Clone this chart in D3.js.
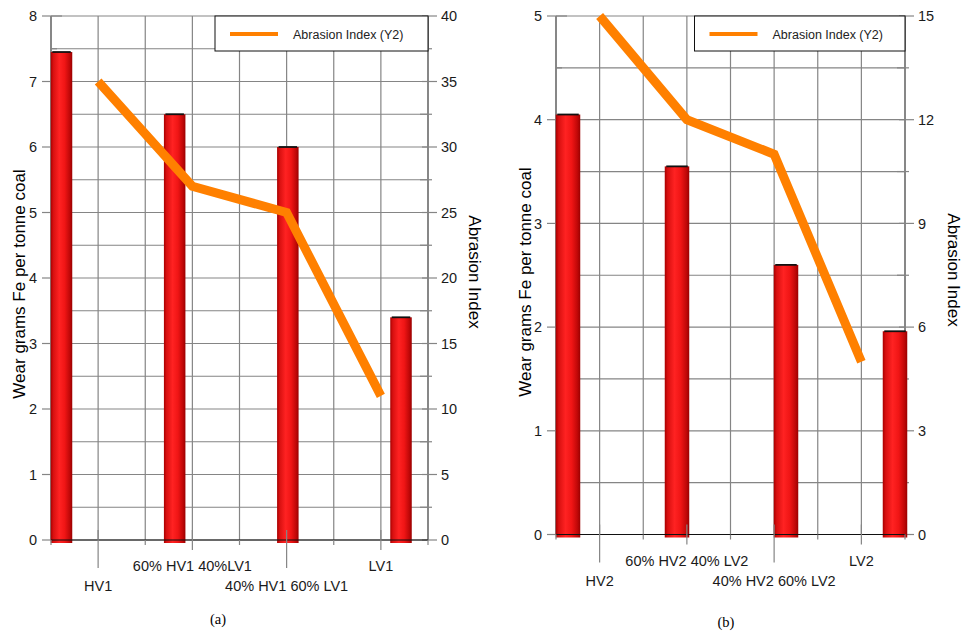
<!DOCTYPE html>
<html>
<head>
<meta charset="utf-8">
<script src="https://cdn.jsdelivr.net/npm/d3@7"></script>
<style>
  body { margin: 0; background: #fff; }
  svg { display: block; font-family: "Liberation Sans", Arial, sans-serif; }
  .grid line { stroke: #858585; stroke-width: 1.2px; }
  .axisline { stroke: #777; stroke-width: 1.5px; }
  .tick { stroke: #858585; stroke-width: 1.2px; }
  .ticklabel { font-size: 14.5px; fill: #1a1a1a; }
  .catlabel { font-size: 14.5px; fill: #1a1a1a; }
  .title { font-size: 17px; fill: #000; }
  .caption { font-family: "Liberation Serif", "Times New Roman", serif; font-size: 14.5px; fill: #000; }
</style>
</head>
<body>
<div id="chart"></div>
<script>
// panel (a)
const categoriesA = ["HV1", "60% HV1 40%LV1", "40% HV1 60% LV1", "LV1"];
const wearA = [7.45, 6.5, 6.0, 3.4];
const abrasionA = [35, 27, 25, 11];
const wearTicksA = [0, 1, 2, 3, 4, 5, 6, 7, 8];
const abrasionTicksA = [0, 5, 10, 15, 20, 25, 30, 35, 40];

// panel (b)
const categoriesB = ["HV2", "60% HV2 40% LV2", "40% HV2 60% LV2", "LV2"];
const wearB = [4.05, 3.55, 2.6, 1.96];
const abrasionB = [15, 12, 11, 5];
const wearTicksB = [0, 1, 2, 3, 4, 5];
const abrasionTicksB = [0, 3, 6, 9, 12, 15];

const legendLabel = "Abrasion Index (Y2)";
const yTitle = "Wear grams Fe per tonne coal";
const y2Title = "Abrasion Index";

const width = 966,
  height = 632;

const svg = d3
  .select("#chart")
  .append("svg")
  .attr("width", width)
  .attr("height", height)
  .attr("viewBox", `0 0 ${width} ${height}`);

// cylinder look for the bars
const grad = svg
  .append("defs")
  .append("linearGradient")
  .attr("id", "barGrad")
  .attr("x1", "0%")
  .attr("x2", "100%");
[
  ["0%", "#a80000"],
  ["12%", "#d81010"],
  ["40%", "#ff2222"],
  ["65%", "#f01515"],
  ["88%", "#c00808"],
  ["100%", "#9a0000"]
].forEach(s => grad.append("stop").attr("offset", s[0]).attr("stop-color", s[1]));

function drawPanel(p) {
  const g = svg.append("g");

  const x = d3
    .scaleBand()
    .domain(p.categories)
    .range([p.left, p.right])
    .padding(0);
  const bw = x.bandwidth();

  // the bars sit off the category centres in the original
  const xBar = d3
    .scalePoint()
    .domain(p.categories)
    .range(p.barRange);

  const y = d3.scaleLinear().domain(p.yDomain).range([p.bottom, p.top]);
  const y2 = d3.scaleLinear().domain(p.y2Domain).range([p.bottom, p.top]);

  // half-step gridlines, both ways
  const yHalf = d3.range(p.yDomain[0], p.yDomain[1] + 0.001, 0.5);
  const xHalf = [];
  p.categories.forEach(c => {
    xHalf.push(x(c));
    xHalf.push(x(c) + bw / 2);
  });
  xHalf.push(p.right);

  const grid = g.append("g").attr("class", "grid");
  grid
    .selectAll("line.h")
    .data(yHalf)
    .enter()
    .append("line")
    .attr("x1", p.left)
    .attr("x2", p.right)
    .attr("y1", d => y(d))
    .attr("y2", d => y(d));
  grid
    .selectAll("line.v")
    .data(xHalf)
    .enter()
    .append("line")
    .attr("x1", d => d)
    .attr("x2", d => d)
    .attr("y1", p.top)
    .attr("y2", p.bottom);

  // axis lines
  g.append("line")
    .attr("class", "axisline")
    .attr("x1", p.left)
    .attr("x2", p.left)
    .attr("y1", p.top)
    .attr("y2", p.bottom);
  g.append("line")
    .attr("class", "axisline")
    .attr("x1", p.right)
    .attr("x2", p.right)
    .attr("y1", p.top)
    .attr("y2", p.bottom);

  // left axis ticks + labels
  g.selectAll("line.ymajor")
    .data(p.yTicks)
    .enter()
    .append("line")
    .attr("class", "tick")
    .attr("x1", p.left - 9)
    .attr("x2", p.left + 11)
    .attr("y1", d => y(d))
    .attr("y2", d => y(d));
  g.selectAll("line.yminor")
    .data(yHalf.filter(d => d % 1 !== 0))
    .enter()
    .append("line")
    .attr("class", "tick")
    .attr("x1", p.left)
    .attr("x2", p.left + 6)
    .attr("y1", d => y(d))
    .attr("y2", d => y(d));
  g.selectAll("text.ylab")
    .data(p.yTicks)
    .enter()
    .append("text")
    .attr("class", "ticklabel")
    .attr("x", p.left - 14)
    .attr("y", d => y(d))
    .attr("dy", "0.36em")
    .attr("text-anchor", "end")
    .text(d => d);

  // right axis ticks + labels
  const y2Step = p.y2Ticks[1] - p.y2Ticks[0];
  g.selectAll("line.y2major")
    .data(p.y2Ticks)
    .enter()
    .append("line")
    .attr("class", "tick")
    .attr("x1", p.right - 6)
    .attr("x2", p.right + 9)
    .attr("y1", d => y2(d))
    .attr("y2", d => y2(d));
  g.selectAll("line.y2minor")
    .data(p.y2Ticks.slice(1).map(d => d - y2Step / 2))
    .enter()
    .append("line")
    .attr("class", "tick")
    .attr("x1", p.right - 8)
    .attr("x2", p.right + 4)
    .attr("y1", d => y2(d))
    .attr("y2", d => y2(d));
  g.selectAll("text.y2lab")
    .data(p.y2Ticks)
    .enter()
    .append("text")
    .attr("class", "ticklabel")
    .attr("x", p.right + 13)
    .attr("y", d => y2(d))
    .attr("dy", "0.36em")
    .text(d => d);

  // bars
  const barW = p.barWidth;
  const bars = g
    .selectAll("g.bar")
    .data(p.wear.map((v, i) => ({ c: p.categories[i], v: v })))
    .enter()
    .append("g")
    .attr("class", "bar");
  bars
    .append("rect")
    .attr("x", d => xBar(d.c) - barW / 2)
    .attr("y", d => y(d.v))
    .attr("width", barW)
    .attr("height", d => y(0) + 3 - y(d.v))
    .attr("fill", "url(#barGrad)");
  bars
    .append("line")
    .attr("x1", d => xBar(d.c) - barW / 2 + 1.5)
    .attr("x2", d => xBar(d.c) + barW / 2 - 1.5)
    .attr("y1", d => y(d.v))
    .attr("y2", d => y(d.v))
    .attr("stroke", "#111")
    .attr("stroke-width", 1.8);

  // zero line
  g.append("line")
    .attr("x1", p.left)
    .attr("x2", p.right)
    .attr("y1", y(0))
    .attr("y2", y(0))
    .attr("stroke", "#111")
    .attr("stroke-width", 1.2);

  // abrasion index line
  const line = d3
    .line()
    .x((d, i) => x(p.categories[i]) + bw / 2)
    .y(d => y2(d));
  g.append("path")
    .attr("d", line(p.abrasion))
    .attr("fill", "none")
    .attr("stroke", "#ff8000")
    .attr("stroke-width", 9)
    .attr("stroke-linejoin", "miter")
    .attr("stroke-linecap", "butt");

  // category ticks below the axis, long for the lower row
  g.selectAll("line.xedge")
    .data(xHalf.filter((d, i) => i % 2 === 0))
    .enter()
    .append("line")
    .attr("class", "tick")
    .attr("x1", d => d)
    .attr("x2", d => d)
    .attr("y1", y(0))
    .attr("y2", y(0) + 5);
  g.selectAll("line.xcat")
    .data(p.categories)
    .enter()
    .append("line")
    .attr("class", "tick")
    .attr("x1", d => x(d) + bw / 2)
    .attr("x2", d => x(d) + bw / 2)
    .attr("y1", y(0) - 10)
    .attr("y2", (d, i) => y(0) + (i % 2 === 0 ? 28 : 10));
  g.selectAll("text.xlab")
    .data(p.categories)
    .enter()
    .append("text")
    .attr("class", "catlabel")
    .attr("x", d => x(d) + bw / 2)
    .attr("y", (d, i) => y(0) + (i % 2 === 0 ? 51 : 31))
    .attr("text-anchor", "middle")
    .text(d => d);

  // legend
  const lg = g.append("g").attr("transform", `translate(${p.right - p.legendWidth},${p.top})`);
  lg.append("rect")
    .attr("width", p.legendWidth)
    .attr("height", 35)
    .attr("fill", "#fff")
    .attr("stroke", "#111")
    .attr("stroke-width", 1);
  lg.append("line")
    .attr("x1", 15)
    .attr("x2", 63)
    .attr("y1", 18)
    .attr("y2", 18)
    .attr("stroke", "#ff8000")
    .attr("stroke-width", 4);
  lg.append("text")
    .attr("x", 78)
    .attr("y", 22.5)
    .attr("font-size", "12.5px")
    .attr("fill", "#222")
    .text(legendLabel);

  // axis titles
  g.append("text")
    .attr("class", "title")
    .attr("transform", `translate(${p.yTitleX},${p.yTitleY}) rotate(-90)`)
    .attr("text-anchor", "middle")
    .attr("dy", "0.35em")
    .text(yTitle);
  g.append("text")
    .attr("class", "title")
    .attr("font-size", "16.5px")
    .attr("transform", `translate(${p.y2TitleX},${p.y2TitleY}) rotate(90)`)
    .attr("text-anchor", "middle")
    .attr("dy", "0.35em")
    .text(y2Title);

  // caption
  g.append("text")
    .attr("class", "caption")
    .attr("x", p.captionX)
    .attr("y", p.captionY)
    .attr("text-anchor", "middle")
    .text(p.caption);
}

drawPanel({
  categories: categoriesA,
  wear: wearA,
  abrasion: abrasionA,
  yTicks: wearTicksA,
  y2Ticks: abrasionTicksA,
  yDomain: [0, 8],
  y2Domain: [0, 40],
  left: 51,
  right: 428,
  top: 16,
  bottom: 540,
  barRange: [61.5, 401],
  barWidth: 21.5,
  legendWidth: 213,
  yTitleX: 19.5,
  yTitleY: 284,
  y2TitleX: 475,
  y2TitleY: 272,
  caption: "(a)",
  captionX: 218,
  captionY: 624
});

drawPanel({
  categories: categoriesB,
  wear: wearB,
  abrasion: abrasionB,
  yTicks: wearTicksB,
  y2Ticks: abrasionTicksB,
  yDomain: [0, 5],
  y2Domain: [0, 15],
  left: 556,
  right: 905,
  top: 16,
  bottom: 534.5,
  barRange: [568, 895],
  barWidth: 24.5,
  legendWidth: 210.5,
  yTitleX: 525,
  yTitleY: 282,
  y2TitleX: 954,
  y2TitleY: 270,
  caption: "(b)",
  captionX: 726,
  captionY: 627
});
</script>
</body>
</html>
